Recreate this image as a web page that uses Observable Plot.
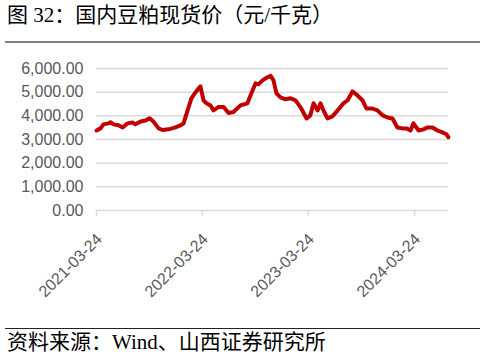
<!DOCTYPE html>
<html><head><meta charset="utf-8">
<script src="https://cdn.jsdelivr.net/npm/d3@7"></script>
<script src="https://cdn.jsdelivr.net/npm/@observablehq/plot@0.6"></script>
<style>
body{margin:0;width:486px;height:359px;background:#fff;position:relative;overflow:hidden;font-family:"Liberation Serif","Noto Sans CJK SC",serif;}
#title{position:absolute;left:7px;top:4px;font-size:21px;line-height:22px;color:#000;white-space:nowrap;}
#tline{position:absolute;left:5px;top:41px;width:475px;height:2px;background:#808080;}
#chart{position:absolute;left:0;top:45px;}
#fline{position:absolute;left:5px;top:328px;width:475px;height:1px;background:#222;}
#foot{position:absolute;left:7px;top:331px;font-size:21px;line-height:22px;color:#000;white-space:nowrap;}
</style></head><body>
<div id="title">图 32：国内豆粕现货价（元/千克）</div>
<div id="tline"></div>
<div id="chart"></div>
<div id="fline"></div>
<div id="foot">资料来源：Wind、山西证券研究所</div>
<script>
const dates = ["2021-03-24","2021-04-07","2021-04-17","2021-05-04","2021-05-11","2021-05-22","2021-06-08","2021-06-22","2021-07-09","2021-07-26","2021-08-05","2021-08-23","2021-09-09","2021-09-23","2021-10-06","2021-10-24","2021-11-06","2021-11-27","2021-12-21","2022-01-07","2022-01-18","2022-02-01","2022-02-14","2022-02-28","2022-03-17","2022-03-28","2022-04-07","2022-04-21","2022-05-01","2022-05-18","2022-06-05","2022-06-22","2022-07-09","2022-08-02","2022-08-26","2022-09-13","2022-09-23","2022-10-03","2022-10-17","2022-11-03","2022-11-14","2022-11-24","2022-12-04","2022-12-18","2023-01-04","2023-01-22","2023-02-08","2023-02-25","2023-03-18","2023-03-31","2023-04-11","2023-04-25","2023-05-05","2023-05-15","2023-05-29","2023-06-15","2023-07-03","2023-07-23","2023-08-06","2023-08-23","2023-09-06","2023-09-27","2023-10-10","2023-10-31","2023-11-17","2023-12-05","2023-12-22","2024-01-08","2024-01-25","2024-02-11","2024-02-25","2024-03-10","2024-03-20","2024-04-07","2024-04-24","2024-05-08","2024-05-25","2024-06-11","2024-06-28","2024-07-12","2024-07-19"];
const prices = [3380,3470,3640,3680,3730,3640,3600,3510,3680,3720,3640,3760,3800,3900,3760,3470,3400,3430,3510,3600,3680,4230,4740,4990,5250,4650,4530,4440,4230,4370,4370,4120,4160,4440,4530,5080,5370,5330,5500,5630,5690,5500,4950,4780,4700,4740,4650,4360,3890,4020,4530,4230,4530,4230,3890,3980,4230,4530,4650,5030,4900,4650,4310,4310,4230,4020,3930,3890,3510,3470,3470,3380,3680,3380,3430,3510,3510,3380,3300,3220,3090];
const yTicks = [0,1000,2000,3000,4000,5000,6000];
const xTickLabels = ["2021-03-24","2022-03-24","2023-03-24","2024-03-24"];

const data = dates.map((d,i)=>({date:new Date(d+"T00:00:00Z"), price:prices[i]}));
const xTicks = xTickLabels.map(s=>new Date(s+"T00:00:00Z"));
const fmtDate = d3.utcFormat("%Y-%m-%d");

const chart = Plot.plot({
  width:486, height:280,
  marginTop:23, marginBottom:115, marginLeft:96, marginRight:38,
  style:{fontFamily:"'Liberation Sans', sans-serif", fontSize:"16px", color:"#595959", background:"#fff"},
  x:{type:"utc", domain:[new Date("2021-03-24T00:00:00Z"), new Date("2024-07-19T00:00:00Z")], label:null, axis:null},
  y:{domain:[0,6000], label:null, axis:null},
  marks:[
    Plot.gridY(yTicks.filter(v=>v>0), {stroke:"#d9d9d9", strokeOpacity:1, strokeWidth:1.5}),
    Plot.ruleY([0], {stroke:"#d9d9d9", strokeWidth:1.5}),
    Plot.axisX({ticks:xTicks, tickFormat:()=>"", tickSize:6, stroke:"#d9d9d9", strokeWidth:1.5, label:null}),
    Plot.text(xTicks, {x:d=>d, text:d=>fmtDate(d), frameAnchor:"bottom", rotate:-45, textAnchor:"end", lineAnchor:"middle", dx:3, dy:26, fill:"#595959", fontSize:16}),
    Plot.axisY({ticks:yTicks, tickFormat:d3.format(",.2f"), tickSize:0, tickPadding:13, fill:"#595959", label:null}),
    Plot.line(data, {x:"date", y:"price", stroke:"#c00000", strokeWidth:4, strokeLinejoin:"round", strokeLinecap:"round"})
  ]
});
document.getElementById("chart").appendChild(chart);
</script>
</body></html>
